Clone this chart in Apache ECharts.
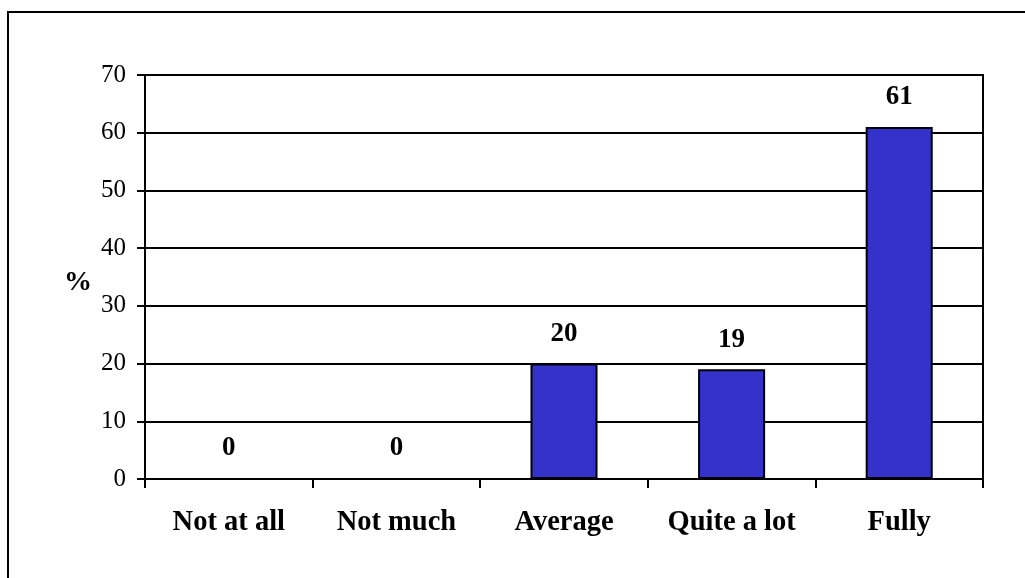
<!DOCTYPE html>
<html>
<head>
<meta charset="utf-8">
<style>
html,body{margin:0;padding:0;background:#fff;}
#c{width:1025px;height:578px;}
</style>
<script src="https://cdn.jsdelivr.net/npm/echarts@6/dist/echarts.min.js"></script>
</head>
<body>
<div id="c"></div>
<script>
var categories = ['Not at all', 'Not much', 'Average', 'Quite a lot', 'Fully'];
var values = [0, 0, 20, 19, 61];
var yTicks = [0, 10, 20, 30, 40, 50, 60, 70];

var chart = echarts.init(document.getElementById('c'));
var font = 'Liberation Serif, Times New Roman, serif';
chart.setOption({
  animation: false,
  graphic: [{
    type: 'rect',
    shape: {x: 8, y: 12, width: 1040, height: 600},
    style: {fill: 'none', stroke: '#000', lineWidth: 2}
  }],
  grid: {left: 145, right: 42, top: 75, bottom: 99, show: true, borderColor: '#000', borderWidth: 2, backgroundColor: 'transparent'},
  xAxis: {
    type: 'category',
    data: categories,
    axisLine: {lineStyle: {color: '#000', width: 2}},
    axisTick: {show: true, length: 9, lineStyle: {color: '#000', width: 2}},
    axisLabel: {color: '#000', fontFamily: font, fontWeight: 'bold', fontSize: 28.5, margin: 29}
  },
  yAxis: {
    type: 'value',
    min: yTicks[0],
    max: yTicks[yTicks.length - 1],
    interval: 10,
    name: '{p|%}',
    nameLocation: 'middle',
    nameRotate: 0,
    nameGap: 53,
    nameTextStyle: {
      color: '#000', fontFamily: font, fontWeight: 'bold', fontSize: 28,
      rich: {p: {color: '#000', fontFamily: font, fontWeight: 'bold', fontSize: 28, padding: [12, 0, 0, 0]}}
    },
    axisLine: {show: true, lineStyle: {color: '#000', width: 2}},
    axisTick: {show: true, length: 8, lineStyle: {color: '#000', width: 2}},
    axisLabel: {color: '#000', fontFamily: font, fontSize: 25, margin: 19},
    splitLine: {show: true, lineStyle: {color: '#000', width: 2}}
  },
  series: [{
    type: 'bar',
    data: values,
    barWidth: '40%',
    itemStyle: {color: '#3333CC', borderColor: '#000', borderWidth: 2},
    label: {show: true, position: 'top', distance: 16, color: '#000', fontFamily: font, fontWeight: 'bold', fontSize: 27}
  }]
});
</script>
</body>
</html>
